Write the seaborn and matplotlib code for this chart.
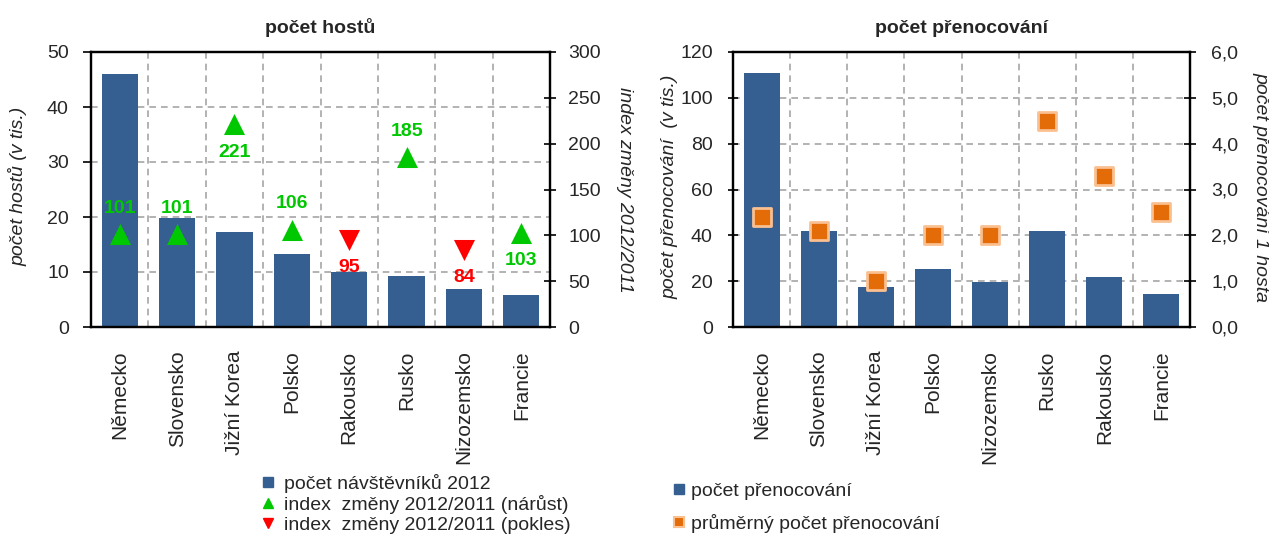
import numpy as np
import pandas as pd
import matplotlib
matplotlib.use("Agg")
import matplotlib.pyplot as plt
from matplotlib.lines import Line2D
from matplotlib.ticker import FuncFormatter, FixedLocator
import seaborn as sns

# ---- data ----
countries_left = ["Německo", "Slovensko", "Jižní Korea", "Polsko", "Rakousko", "Rusko", "Nizozemsko", "Francie"]
guests_2012 = [46.0, 19.8, 17.3, 13.3, 10.0, 9.3, 6.9, 5.8]
index_change = [101, 101, 221, 106, 95, 185, 84, 103]

countries_right = ["Německo", "Slovensko", "Jižní Korea", "Polsko", "Nizozemsko", "Rusko", "Rakousko", "Francie"]
overnights = [110.8, 42.0, 17.6, 25.5, 19.6, 42.0, 22.0, 14.3]
avg_overnights = [2.4, 2.1, 1.0, 2.0, 2.0, 4.5, 3.3, 2.5]

sns.set_style("white")
plt.rcParams["font.family"] = ["Liberation Sans", "DejaVu Sans"]

BLUE = "#365F91"
GREEN = "#00C800"
RED = "#FF0000"
ORANGE = "#E36C09"
ORANGE_EDGE = "#FAC090"
FS = 14

W, H = 1269, 536
fig = plt.figure(figsize=(W / 100, H / 100), dpi=100)
axL = fig.add_axes([91 / W, 1 - 327 / H, (550 - 91) / W, (327 - 52) / H])
axR = fig.add_axes([733 / W, 1 - 327 / H, (1190 - 733) / W, (327 - 52) / H])


def style_axes(ax, ax2, n, left_dir, left_len, left_pad, right_len, right_pad):
    ax.set_axisbelow(True)
    ax.set_xlim(-0.5, n - 0.5)
    ax.xaxis.set_minor_locator(FixedLocator(np.arange(n + 1) - 0.5))
    ax.grid(True, which="major", axis="y", color="#A6A6A6", linestyle=(0, (4, 3)), linewidth=1.2)
    ax.grid(True, which="minor", axis="x", color="#A6A6A6", linestyle=(0, (4, 3)), linewidth=1.2)
    ax.tick_params(axis="x", which="major", length=0, labelsize=15, pad=17, labelrotation=90)
    ax.tick_params(axis="x", which="minor", length=5, width=1.5, direction="out", color="black")
    ax.tick_params(axis="y", length=left_len, width=1.2, direction=left_dir, labelsize=FS,
                   pad=left_pad, color="black")
    ax2.tick_params(axis="y", length=right_len, width=1.2, direction="inout", labelsize=FS,
                    pad=right_pad, color="black")
    for a in (ax, ax2):
        for sp in a.spines.values():
            sp.set_visible(True)
            sp.set_color("black")
            sp.set_linewidth(1.6)
    ax.set_xlabel("")


def place_ylabel(axis_obj, text, x, y, rotation):
    axis_obj.set_label_text(text, fontsize=FS, style="italic")
    lab = axis_obj.label
    lab.set_rotation(rotation)
    lab.set_rotation_mode("default")
    lab.set_ha("center")
    lab.set_va("center")
    axis_obj.set_label_coords(x, y)


# ---- left chart ----
dfL = pd.DataFrame({"country": countries_left, "guests": guests_2012, "index": index_change})
sns.barplot(data=dfL, x="country", y="guests", ax=axL, color=BLUE, width=0.63,
            saturation=1, edgecolor="none", order=countries_left)
axL.set_ylim(0, 50)
axL.set_yticks(np.arange(0, 51, 10))
axL.set_title("počet hostů", fontsize=FS, fontweight="bold", pad=14)
axL2 = axL.twinx()
axL2.set_ylim(0, 300)
axL2.set_yticks(np.arange(0, 301, 50))
style_axes(axL, axL2, len(countries_left), "out", 6, 10, 8, 9)
place_ylabel(axL.yaxis, "počet hostů (v tis.)", (18 - 91) / 459, 0.51, 90)
place_ylabel(axL2.yaxis, "index změny 2012/2011", (624 - 91) / 459, 0.50, -90)

pos = np.arange(len(countries_left))
idx = np.array(index_change)
up = idx >= 100
axL2.scatter(pos[up], idx[up], marker="^", s=230, color=GREEN, zorder=5, linewidths=0)
axL2.scatter(pos[~up], idx[~up], marker="v", s=230, color=RED, zorder=5, linewidths=0)
label_above = {"Německo": True, "Slovensko": True, "Polsko": True, "Rusko": True}
for p, c, v in zip(pos, countries_left, index_change):
    above = label_above.get(c, False)
    axL2.annotate(str(v), (p, v), xytext=(0, 19 if above else -20), textcoords="offset points",
                  ha="center", va="center", fontsize=FS, fontweight="bold",
                  color=GREEN if v >= 100 else RED, zorder=6)

# ---- right chart ----
dfR = pd.DataFrame({"country": countries_right, "nights": overnights, "avg": avg_overnights})
sns.barplot(data=dfR, x="country", y="nights", ax=axR, color=BLUE, width=0.63,
            saturation=1, edgecolor="none", order=countries_right)
axR.set_ylim(0, 120)
axR.set_yticks(np.arange(0, 121, 20))
axR.set_title("počet přenocování", fontsize=FS, fontweight="bold", pad=14)
axR2 = axR.twinx()
axR2.set_ylim(0, 6)
axR2.set_yticks(np.arange(0, 7, 1))
axR2.yaxis.set_major_formatter(FuncFormatter(lambda v, _: f"{v:.1f}".replace(".", ",")))
style_axes(axR, axR2, len(countries_right), "inout", 7, 11, 8.5, 11)
place_ylabel(axR.yaxis, "počet přenocování  (v tis.)", (670 - 733) / 457, 0.51, 90)
place_ylabel(axR2.yaxis, "počet přenocování 1 hosta", (1261 - 733) / 457, 0.51, -90)
axR2.scatter(np.arange(len(countries_right)), avg_overnights, marker="s", s=150,
             color=ORANGE, edgecolors=ORANGE_EDGE, linewidths=2, zorder=5)

# ---- legends ----
hL = [Line2D([], [], marker="s", linestyle="none", color=BLUE, markersize=7),
      Line2D([], [], marker="^", linestyle="none", color=GREEN, markersize=7),
      Line2D([], [], marker="v", linestyle="none", color=RED, markersize=7)]
fig.legend(hL, ["počet návštěvníků 2012", "index  změny 2012/2011 (nárůst)", "index  změny 2012/2011 (pokles)"],
           loc="upper left", bbox_to_anchor=(260 / W, 1 - 474 / H), frameon=False, fontsize=FS,
           handlelength=0.8, handletextpad=0.45, labelspacing=0.1, borderpad=0, borderaxespad=0)

hR = [Line2D([], [], marker="s", linestyle="none", color=BLUE, markersize=7),
      Line2D([], [], marker="s", linestyle="none", color=ORANGE, markeredgecolor=ORANGE_EDGE,
             markeredgewidth=1.5, markersize=7)]
fig.legend(hR, ["počet přenocování", "průměrný počet přenocování"],
           loc="upper left", bbox_to_anchor=(674 / W, 1 - 482 / H), frameon=False, fontsize=FS,
           handlelength=0.5, handletextpad=0.35, labelspacing=0.75, borderpad=0, borderaxespad=0)

fig.savefig("out.png", dpi=100)
